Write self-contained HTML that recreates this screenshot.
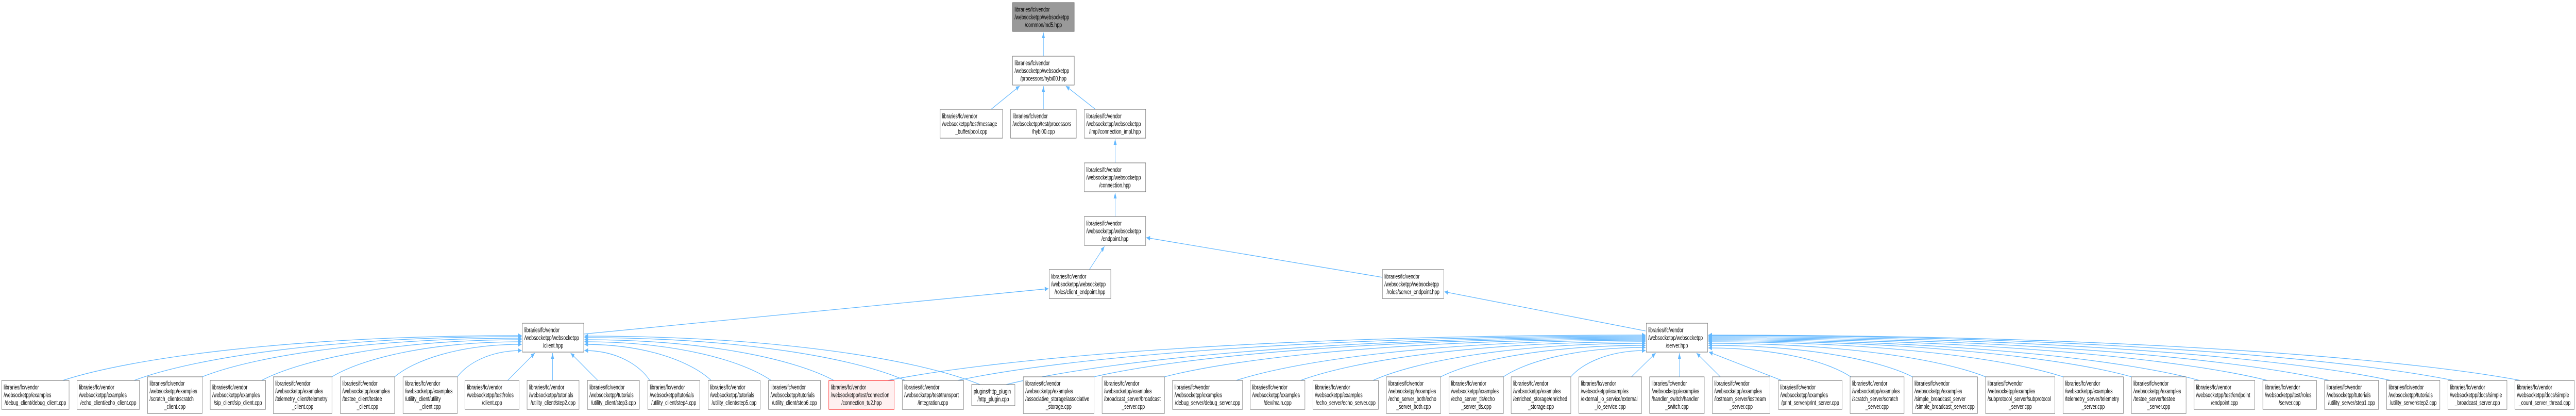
<!DOCTYPE html>
<html><head><meta charset="utf-8"><style>
html,body{margin:0;padding:0;background:#fff;overflow:hidden;width:100%;height:100%;}
svg{display:block;position:fixed;left:0;top:0;width:100vw;height:100vh;}
text{font-family:"Liberation Sans",Arial,sans-serif;font-size:13.3px;fill:#000;}
.m{text-anchor:middle;}
rect.n{fill:#fff;stroke:#666;stroke-width:1;}
path.e{fill:none;stroke:#63b8ff;stroke-width:1.3;}
</style></head><body>
<svg viewBox="0 0 7683 807" preserveAspectRatio="none" xmlns="http://www.w3.org/2000/svg">
<defs><marker id="a" markerWidth="11" markerHeight="9" refX="11" refY="4.5" orient="auto" markerUnits="userSpaceOnUse"><path d="M0,0 L11,4.5 L0,9 z" fill="#63b8ff"/></marker></defs>
<g>
<path class="e" marker-end="url(#a)" d="M3112,109 L3112,63"/>
<path class="e" marker-end="url(#a)" d="M2956,212 L3041,167"/>
<path class="e" marker-end="url(#a)" d="M3112,212 L3112,167"/>
<path class="e" marker-end="url(#a)" d="M3267,212 L3179,167"/>
<path class="e" marker-end="url(#a)" d="M3326,316 L3326,270"/>
<path class="e" marker-end="url(#a)" d="M3326,420 L3326,374"/>
<path class="e" marker-end="url(#a)" d="M3249,523 L3294,478"/>
<path class="e" marker-end="url(#a)" d="M4123,538 L3419,461"/>
<path class="e" marker-end="url(#a)" d="M4908,642 L4308,566"/>
<path class="e" marker-end="url(#a)" d="M1741,648 L3127,560"/>
<path class="e" marker-end="url(#a)" d="M187,738 C392,694.5 871.5,651 1556,651"/>
<path class="e" marker-end="url(#a)" d="M400,738 C573,695.5 978,653 1556,653"/>
<path class="e" marker-end="url(#a)" d="M603,731 C746,693.5 1079.5,656 1556,656"/>
<path class="e" marker-end="url(#a)" d="M780,738 C896,698.5 1168,659 1556,659"/>
<path class="e" marker-end="url(#a)" d="M990,731 C1075,697 1273,663 1556,663"/>
<path class="e" marker-end="url(#a)" d="M1177,731 C1234,699.5 1366.5,668 1556,668"/>
<path class="e" marker-end="url(#a)" d="M1364,731 C1393,705.5 1460,680 1556,680"/>
<path class="e" marker-end="url(#a)" d="M1514,738 L1595,685"/>
<path class="e" marker-end="url(#a)" d="M1648,738 L1648,685"/>
<path class="e" marker-end="url(#a)" d="M1783,738 L1702,685"/>
<path class="e" marker-end="url(#a)" d="M1938,738 C1908.75,709 1840.5,680 1743,680"/>
<path class="e" marker-end="url(#a)" d="M2121,738 C2064,703 1932,668 1743,668"/>
<path class="e" marker-end="url(#a)" d="M2300,738 C2216.5,700.5 2021.5,663 1743,663"/>
<path class="e" marker-end="url(#a)" d="M2487,738 C2375,698.5 2115,659 1743,659"/>
<path class="e" marker-end="url(#a)" d="M2700,738 C2556.5,696.5 2221.5,655 1743,655"/>
<path class="e" marker-end="url(#a)" d="M2923,746 C2746,699 2333,652 1743,652"/>
<path class="e" marker-end="url(#a)" d="M2648,738 C2987,694 3778,650 4908,650"/>
<path class="e" marker-end="url(#a)" d="M2856,738 C3164,695 3882,652 4908,652"/>
<path class="e" marker-end="url(#a)" d="M3001,746 C3287,700 3954.5,654 4908,654"/>
<path class="e" marker-end="url(#a)" d="M3263,731 C3510,693.5 4085.5,656 4908,656"/>
<path class="e" marker-end="url(#a)" d="M3473,731 C3688,694.5 4190.5,658 4908,658"/>
<path class="e" marker-end="url(#a)" d="M3687,738 C3870,699 4297.5,660 4908,660"/>
<path class="e" marker-end="url(#a)" d="M3879,738 C4033,700.5 4393.5,663 4908,663"/>
<path class="e" marker-end="url(#a)" d="M4095,738 C4217,702 4501.5,666 4908,666"/>
<path class="e" marker-end="url(#a)" d="M4297,731 C4389,700.5 4602.5,670 4908,670"/>
<path class="e" marker-end="url(#a)" d="M4484,731 C4547.6,702.5 4696,674 4908,674"/>
<path class="e" marker-end="url(#a)" d="M4685,731 C4718,705.5 4796.5,680 4908,680"/>
<path class="e" marker-end="url(#a)" d="M4866,731 L4938,685"/>
<path class="e" marker-end="url(#a)" d="M5009,731 L5009,685"/>
<path class="e" marker-end="url(#a)" d="M5131,731 L5060,685"/>
<path class="e" marker-end="url(#a)" d="M5314,738 L5097,683"/>
<path class="e" marker-end="url(#a)" d="M5520,731 C5456,703 5307.5,675 5095,675"/>
<path class="e" marker-end="url(#a)" d="M5704,731 C5612.6,700.5 5399.5,670 5095,670"/>
<path class="e" marker-end="url(#a)" d="M5922,731 C5798,698.5 5508.5,666 5095,666"/>
<path class="e" marker-end="url(#a)" d="M6153,731 C5994,697 5624,663 5095,663"/>
<path class="e" marker-end="url(#a)" d="M6357,731 C6168,696 5726,661 5095,661"/>
<path class="e" marker-end="url(#a)" d="M6560,738 C6340,698.5 5827.5,659 5095,659"/>
<path class="e" marker-end="url(#a)" d="M6763,738 C6513,697.5 5929,657 5095,657"/>
<path class="e" marker-end="url(#a)" d="M6948,738 C6670,696.5 6021.5,655 5095,655"/>
<path class="e" marker-end="url(#a)" d="M7131,738 C6825.6,695.5 6113,653 5095,653"/>
<path class="e" marker-end="url(#a)" d="M7318,738 C6984.5,694.5 6206.5,651 5095,651"/>
<path class="e" marker-end="url(#a)" d="M7518,738 C7154.5,694 6306.5,650 5095,650"/>
</g>

<rect x="3020" y="5" width="184" height="56" fill="#999" stroke="#666"/>
<text x="3026" y="22.5">libraries/fc/vendor</text><text x="3026" y="37.5">/websocketpp/websocketpp</text><text class="m" x="3112" y="52.5">/common/md5.hpp</text>

<rect class="n" x="3020" y="109" width="184" height="56"/>
<text x="3026" y="126.5">libraries/fc/vendor</text><text x="3026" y="141.5">/websocketpp/websocketpp</text><text class="m" x="3112" y="156.5">/processors/hybi00.hpp</text>

<rect class="n" x="2804" y="212" width="186" height="56"/>
<text x="2810" y="229.5">libraries/fc/vendor</text><text x="2810" y="244.5">/websocketpp/test/message</text><text class="m" x="2897" y="259.5">_buffer/pool.cpp</text>

<rect class="n" x="3014" y="212" width="196" height="56"/>
<text x="3020" y="229.5">libraries/fc/vendor</text><text x="3020" y="244.5">/websocketpp/test/processors</text><text class="m" x="3112" y="259.5">/hybi00.cpp</text>

<rect class="n" x="3234" y="212" width="183" height="56"/>
<text x="3240" y="229.5">libraries/fc/vendor</text><text x="3240" y="244.5">/websocketpp/websocketpp</text><text class="m" x="3325.5" y="259.5">/impl/connection_impl.hpp</text>

<rect class="n" x="3234" y="316" width="183" height="56"/>
<text x="3240" y="333.5">libraries/fc/vendor</text><text x="3240" y="348.5">/websocketpp/websocketpp</text><text class="m" x="3325.5" y="363.5">/connection.hpp</text>

<rect class="n" x="3234" y="420" width="183" height="56"/>
<text x="3240" y="437.5">libraries/fc/vendor</text><text x="3240" y="452.5">/websocketpp/websocketpp</text><text class="m" x="3325.5" y="467.5">/endpoint.hpp</text>

<rect class="n" x="3129" y="523" width="184" height="56"/>
<text x="3135" y="540.5">libraries/fc/vendor</text><text x="3135" y="555.5">/websocketpp/websocketpp</text><text class="m" x="3221" y="570.5">/roles/client_endpoint.hpp</text>

<rect class="n" x="4123" y="523" width="183" height="56"/>
<text x="4129" y="540.5">libraries/fc/vendor</text><text x="4129" y="555.5">/websocketpp/websocketpp</text><text class="m" x="4214.5" y="570.5">/roles/server_endpoint.hpp</text>

<rect class="n" x="1558" y="627" width="183" height="56"/>
<text x="1564" y="644.5">libraries/fc/vendor</text><text x="1564" y="659.5">/websocketpp/websocketpp</text><text class="m" x="1649.5" y="674.5">/client.hpp</text>

<rect class="n" x="4910" y="627" width="183" height="56"/>
<text x="4916" y="644.5">libraries/fc/vendor</text><text x="4916" y="659.5">/websocketpp/websocketpp</text><text class="m" x="5001.5" y="674.5">/server.hpp</text>

<rect class="n" x="5" y="738" width="201" height="56"/>
<text x="11" y="755.5">libraries/fc/vendor</text><text x="11" y="770.5">/websocketpp/examples</text><text class="m" x="105.5" y="785.5">/debug_client/debug_client.cpp</text>

<rect class="n" x="230" y="738" width="186" height="56"/>
<text x="236" y="755.5">libraries/fc/vendor</text><text x="236" y="770.5">/websocketpp/examples</text><text class="m" x="323" y="785.5">/echo_client/echo_client.cpp</text>

<rect class="n" x="440" y="731" width="163" height="71"/>
<text x="446" y="748">libraries/fc/vendor</text><text x="446" y="763">/websocketpp/examples</text><text x="446" y="778">/scratch_client/scratch</text><text class="m" x="521.5" y="793">_client.cpp</text>

<rect class="n" x="627" y="738" width="165" height="56"/>
<text x="633" y="755.5">libraries/fc/vendor</text><text x="633" y="770.5">/websocketpp/examples</text><text class="m" x="709.5" y="785.5">/sip_client/sip_client.cpp</text>

<rect class="n" x="815" y="731" width="175" height="71"/>
<text x="821" y="748">libraries/fc/vendor</text><text x="821" y="763">/websocketpp/examples</text><text x="821" y="778">/telemetry_client/telemetry</text><text class="m" x="902.5" y="793">_client.cpp</text>

<rect class="n" x="1015" y="731" width="162" height="71"/>
<text x="1021" y="748">libraries/fc/vendor</text><text x="1021" y="763">/websocketpp/examples</text><text x="1021" y="778">/testee_client/testee</text><text class="m" x="1096" y="793">_client.cpp</text>

<rect class="n" x="1202" y="731" width="162" height="71"/>
<text x="1208" y="748">libraries/fc/vendor</text><text x="1208" y="763">/websocketpp/examples</text><text x="1208" y="778">/utility_client/utility</text><text class="m" x="1283" y="793">_client.cpp</text>

<rect class="n" x="1387" y="738" width="161" height="56"/>
<text x="1393" y="755.5">libraries/fc/vendor</text><text x="1393" y="770.5">/websocketpp/test/roles</text><text class="m" x="1467.5" y="785.5">/client.cpp</text>

<rect class="n" x="1572" y="738" width="155" height="56"/>
<text x="1578" y="755.5">libraries/fc/vendor</text><text x="1578" y="770.5">/websocketpp/tutorials</text><text class="m" x="1649.5" y="785.5">/utility_client/step2.cpp</text>

<rect class="n" x="1752" y="738" width="155" height="56"/>
<text x="1758" y="755.5">libraries/fc/vendor</text><text x="1758" y="770.5">/websocketpp/tutorials</text><text class="m" x="1829.5" y="785.5">/utility_client/step3.cpp</text>

<rect class="n" x="1932" y="738" width="155" height="56"/>
<text x="1938" y="755.5">libraries/fc/vendor</text><text x="1938" y="770.5">/websocketpp/tutorials</text><text class="m" x="2009.5" y="785.5">/utility_client/step4.cpp</text>

<rect class="n" x="2112" y="738" width="155" height="56"/>
<text x="2118" y="755.5">libraries/fc/vendor</text><text x="2118" y="770.5">/websocketpp/tutorials</text><text class="m" x="2189.5" y="785.5">/utility_client/step5.cpp</text>

<rect class="n" x="2292" y="738" width="155" height="56"/>
<text x="2298" y="755.5">libraries/fc/vendor</text><text x="2298" y="770.5">/websocketpp/tutorials</text><text class="m" x="2369.5" y="785.5">/utility_client/step6.cpp</text>

<rect x="2472" y="738" width="195" height="56" fill="#fff0f0" stroke="#f00"/>
<text x="2478" y="755.5">libraries/fc/vendor</text><text x="2478" y="770.5">/websocketpp/test/connection</text><text class="m" x="2569.5" y="785.5">/connection_tu2.hpp</text>

<rect class="n" x="2691" y="738" width="183" height="56"/>
<text x="2697" y="755.5">libraries/fc/vendor</text><text x="2697" y="770.5">/websocketpp/test/transport</text><text class="m" x="2782.5" y="785.5">/integration.cpp</text>

<rect class="n" x="2898" y="746" width="129" height="41"/>
<text x="2904" y="763.5">plugins/http_plugin</text><text class="m" x="2962.5" y="778.5">/http_plugin.cpp</text>

<rect class="n" x="3052" y="731" width="211" height="71"/>
<text x="3058" y="748">libraries/fc/vendor</text><text x="3058" y="763">/websocketpp/examples</text><text x="3058" y="778">/associative_storage/associative</text><text class="m" x="3157.5" y="793">_storage.cpp</text>

<rect class="n" x="3287" y="731" width="186" height="71"/>
<text x="3293" y="748">libraries/fc/vendor</text><text x="3293" y="763">/websocketpp/examples</text><text x="3293" y="778">/broadcast_server/broadcast</text><text class="m" x="3380" y="793">_server.cpp</text>

<rect class="n" x="3497" y="738" width="209" height="56"/>
<text x="3503" y="755.5">libraries/fc/vendor</text><text x="3503" y="770.5">/websocketpp/examples</text><text class="m" x="3601.5" y="785.5">/debug_server/debug_server.cpp</text>

<rect class="n" x="3729" y="738" width="163" height="56"/>
<text x="3735" y="755.5">libraries/fc/vendor</text><text x="3735" y="770.5">/websocketpp/examples</text><text class="m" x="3810.5" y="785.5">/dev/main.cpp</text>

<rect class="n" x="3916" y="738" width="195" height="56"/>
<text x="3922" y="755.5">libraries/fc/vendor</text><text x="3922" y="770.5">/websocketpp/examples</text><text class="m" x="4013.5" y="785.5">/echo_server/echo_server.cpp</text>

<rect class="n" x="4135" y="731" width="162" height="71"/>
<text x="4141" y="748">libraries/fc/vendor</text><text x="4141" y="763">/websocketpp/examples</text><text x="4141" y="778">/echo_server_both/echo</text><text class="m" x="4216" y="793">_server_both.cpp</text>

<rect class="n" x="4322" y="731" width="162" height="71"/>
<text x="4328" y="748">libraries/fc/vendor</text><text x="4328" y="763">/websocketpp/examples</text><text x="4328" y="778">/echo_server_tls/echo</text><text class="m" x="4403" y="793">_server_tls.cpp</text>

<rect class="n" x="4507" y="731" width="178" height="71"/>
<text x="4513" y="748">libraries/fc/vendor</text><text x="4513" y="763">/websocketpp/examples</text><text x="4513" y="778">/enriched_storage/enriched</text><text class="m" x="4596" y="793">_storage.cpp</text>

<rect class="n" x="4709" y="731" width="187" height="71"/>
<text x="4715" y="748">libraries/fc/vendor</text><text x="4715" y="763">/websocketpp/examples</text><text x="4715" y="778">/external_io_service/external</text><text class="m" x="4802.5" y="793">_io_service.cpp</text>

<rect class="n" x="4920" y="731" width="163" height="71"/>
<text x="4926" y="748">libraries/fc/vendor</text><text x="4926" y="763">/websocketpp/examples</text><text x="4926" y="778">/handler_switch/handler</text><text class="m" x="5001.5" y="793">_switch.cpp</text>

<rect class="n" x="5107" y="731" width="172" height="71"/>
<text x="5113" y="748">libraries/fc/vendor</text><text x="5113" y="763">/websocketpp/examples</text><text x="5113" y="778">/iostream_server/iostream</text><text class="m" x="5193" y="793">_server.cpp</text>

<rect class="n" x="5304" y="738" width="190" height="56"/>
<text x="5310" y="755.5">libraries/fc/vendor</text><text x="5310" y="770.5">/websocketpp/examples</text><text class="m" x="5399" y="785.5">/print_server/print_server.cpp</text>

<rect class="n" x="5518" y="731" width="161" height="71"/>
<text x="5524" y="748">libraries/fc/vendor</text><text x="5524" y="763">/websocketpp/examples</text><text x="5524" y="778">/scratch_server/scratch</text><text class="m" x="5598.5" y="793">_server.cpp</text>

<rect class="n" x="5704" y="731" width="194" height="71"/>
<text x="5710" y="748">libraries/fc/vendor</text><text x="5710" y="763">/websocketpp/examples</text><text x="5710" y="778">/simple_broadcast_server</text><text class="m" x="5801" y="793">/simple_broadcast_server.cpp</text>

<rect class="n" x="5922" y="731" width="207" height="71"/>
<text x="5928" y="748">libraries/fc/vendor</text><text x="5928" y="763">/websocketpp/examples</text><text x="5928" y="778">/subprotocol_server/subprotocol</text><text class="m" x="6025.5" y="793">_server.cpp</text>

<rect class="n" x="6153" y="731" width="180" height="71"/>
<text x="6159" y="748">libraries/fc/vendor</text><text x="6159" y="763">/websocketpp/examples</text><text x="6159" y="778">/telemetry_server/telemetry</text><text class="m" x="6243" y="793">_server.cpp</text>

<rect class="n" x="6357" y="731" width="163" height="71"/>
<text x="6363" y="748">libraries/fc/vendor</text><text x="6363" y="763">/websocketpp/examples</text><text x="6363" y="778">/testee_server/testee</text><text class="m" x="6438.5" y="793">_server.cpp</text>

<rect class="n" x="6544" y="738" width="181" height="56"/>
<text x="6550" y="755.5">libraries/fc/vendor</text><text x="6550" y="770.5">/websocketpp/test/endpoint</text><text class="m" x="6634.5" y="785.5">/endpoint.cpp</text>

<rect class="n" x="6749" y="738" width="160" height="56"/>
<text x="6755" y="755.5">libraries/fc/vendor</text><text x="6755" y="770.5">/websocketpp/test/roles</text><text class="m" x="6829" y="785.5">/server.cpp</text>

<rect class="n" x="6933" y="738" width="161" height="56"/>
<text x="6939" y="755.5">libraries/fc/vendor</text><text x="6939" y="770.5">/websocketpp/tutorials</text><text class="m" x="7013.5" y="785.5">/utility_server/step1.cpp</text>

<rect class="n" x="7118" y="738" width="159" height="56"/>
<text x="7124" y="755.5">libraries/fc/vendor</text><text x="7124" y="770.5">/websocketpp/tutorials</text><text class="m" x="7197.5" y="785.5">/utility_server/step2.cpp</text>

<rect class="n" x="7301" y="738" width="176" height="56"/>
<text x="7307" y="755.5">libraries/fc/vendor</text><text x="7307" y="770.5">/websocketpp/docs/simple</text><text class="m" x="7389" y="785.5">_broadcast_server.cpp</text>

<rect class="n" x="7501" y="738" width="177" height="56"/>
<text x="7507" y="755.5">libraries/fc/vendor</text><text x="7507" y="770.5">/websocketpp/docs/simple</text><text class="m" x="7589.5" y="785.5">_count_server_thread.cpp</text>
</svg>
</body></html>
